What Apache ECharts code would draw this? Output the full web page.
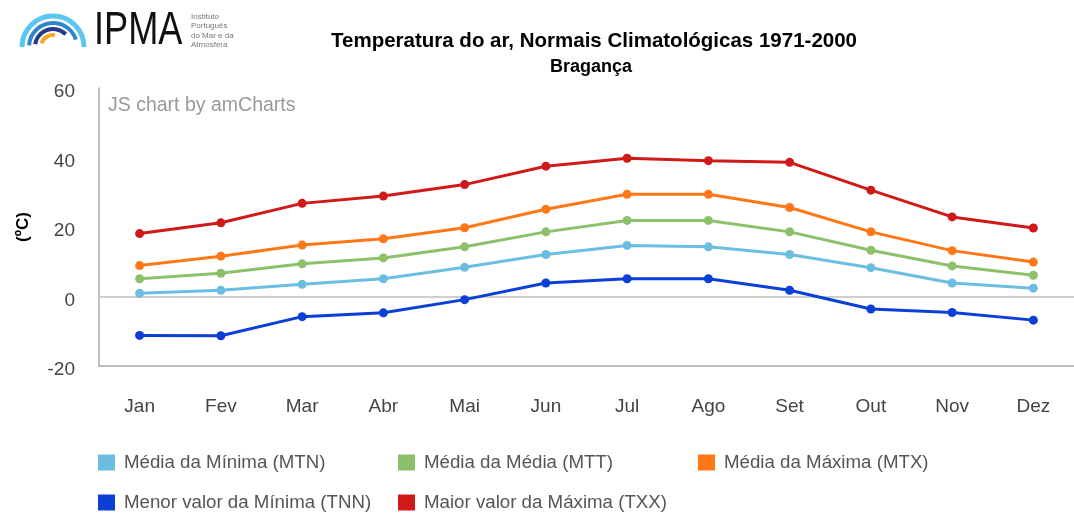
<!DOCTYPE html>
<html>

<head>
  <meta charset="utf-8">
  <title>Temperatura do ar - Bragança</title>
  <script src="https://cdn.jsdelivr.net/npm/echarts@6/dist/echarts.min.js"></script>
  <style>
    html, body { margin: 0; padding: 0; background: #fff; }
    #chart { width: 1074px; height: 513px; }
  </style>
</head>

<body>
  <div id="chart"></div>
  <script type="text/javascript">
    // meses
    var meses = ['Jan', 'Fev', 'Mar', 'Abr', 'Mai', 'Jun', 'Jul', 'Ago', 'Set', 'Out', 'Nov', 'Dez'];

    // valores (ºC)
    var mtn = [0.9, 1.8, 3.5, 5.1, 8.4, 12.1, 14.7, 14.3, 12.1, 8.3, 3.9, 2.4];
    var mtt = [5.1, 6.7, 9.4, 11.1, 14.3, 18.6, 21.9, 21.9, 18.6, 13.3, 8.8, 6.1];
    var mtx = [8.9, 11.6, 14.8, 16.6, 19.8, 25.1, 29.4, 29.4, 25.6, 18.6, 13.2, 9.9];
    var tnn = [-11.2, -11.3, -5.8, -4.7, -0.9, 3.9, 5.1, 5.1, 1.8, -3.6, -4.6, -6.8];
    var txx = [18.1, 21.2, 26.8, 28.9, 32.2, 37.5, 39.8, 39.1, 38.6, 30.6, 22.9, 19.7];

    var nomes = ['Média da Mínima (MTN)', 'Média da Média (MTT)', 'Média da Máxima (MTX)',
      'Menor valor da Mínima (TNN)', 'Maior valor da Máxima (TXX)'];
    var cores = ['#6cbde2', '#8dc06b', '#ff7818', '#0b3fd6', '#d01a1a'];
    var valores = [mtn, mtt, mtx, tnn, txx];

    var myChart = echarts.init(document.getElementById('chart'));

    var series = [];
    for (var i = 0; i < nomes.length; i++) {
      var s = {
        name: nomes[i],
        type: 'line',
        data: valores[i],
        symbol: 'circle',
        symbolSize: 9,
        z: 3,
        lineStyle: { width: 3, color: cores[i] },
        itemStyle: { color: cores[i] }
      };
      if (i == 0) {
        // linha do zero
        s.markLine = {
          silent: true,
          symbol: 'none',
          label: { show: false },
          lineStyle: { color: '#cfcfcf', width: 2, type: 'solid' },
          data: [{ yAxis: 0 }],
          z: 1
        };
      }
      series.push(s);
    }

    // legenda em colunas fixas
    var legPos = [[93, 448], [393, 448], [693, 448], [93, 488], [393, 488]];
    var legends = [];
    for (var j = 0; j < nomes.length; j++) {
      legends.push({
        data: [nomes[j]],
        left: legPos[j][0],
        top: legPos[j][1],
        icon: 'rect',
        itemWidth: 17,
        itemHeight: 16,
        itemGap: 8,
        selectedMode: false,
        textStyle: { fontSize: 18.7, color: '#555', padding: [0, 0, 0, 4], fontFamily: 'Liberation Sans, Arial' }
      });
    }

    var option = {
      animation: false,
      title: [{
        text: 'Temperatura do ar, Normais Climatológicas 1971-2000',
        left: 589,
        top: 26,
        textAlign: 'center',
        textStyle: { fontSize: 20.5, fontWeight: 'bold', color: '#000', fontFamily: 'Liberation Sans, Arial' }
      }, {
        text: 'Bragança',
        left: 586,
        top: 53,
        textAlign: 'center',
        textStyle: { fontSize: 18, fontWeight: 'bold', color: '#000', fontFamily: 'Liberation Sans, Arial' }
      }],
      legend: legends,
      grid: {
        left: 99,
        top: 88,
        width: 982,
        height: 278
      },
      xAxis: {
        type: 'category',
        data: meses,
        boundaryGap: true,
        axisTick: { show: false },
        axisLine: { onZero: false, lineStyle: { color: '#aaa', width: 1.5 } },
        axisLabel: { fontSize: 19, color: '#444', margin: 31, fontFamily: 'Liberation Sans, Arial' },
        splitLine: { show: false }
      },
      yAxis: {
        type: 'value',
        min: -20,
        max: 60,
        interval: 20,
        name: '(ºC)',
        nameLocation: 'middle',
        nameGap: 67,
        nameRotate: 90,
        nameTextStyle: { fontSize: 17, fontWeight: 'bold', color: '#000', fontFamily: 'Liberation Sans, Arial' },
        axisLine: { show: true, lineStyle: { color: '#aaa', width: 1.5 } },
        axisTick: { show: false },
        axisLabel: {
          margin: 24,
          formatter: '{v|{value}}',
          rich: {
            v: { fontSize: 19, color: '#444', padding: [8, 0, 0, 0], fontFamily: 'Liberation Sans, Arial' }
          }
        },
        splitLine: { show: false }
      },
      graphic: [
        // logo IPMA
        { type: 'arc', shape: { cx: 53, cy: 47, r: 31, startAngle: Math.PI, endAngle: 2 * Math.PI }, style: { stroke: '#5cc6f2', lineWidth: 5, fill: null } },
        { type: 'arc', shape: { cx: 53, cy: 47, r: 24, startAngle: Math.PI * 1.02, endAngle: Math.PI * 1.9 }, style: { stroke: '#2f86cc', lineWidth: 4, fill: null } },
        { type: 'arc', shape: { cx: 53, cy: 47, r: 18, startAngle: Math.PI * 1.05, endAngle: Math.PI * 1.75 }, style: { stroke: '#263a8c', lineWidth: 4, fill: null } },
        { type: 'arc', shape: { cx: 53, cy: 47, r: 12, startAngle: Math.PI * 1.1, endAngle: Math.PI * 1.55 }, style: { stroke: '#f6a623', lineWidth: 4, fill: null } },
        { type: 'text', x: 94, y: 31, scaleX: 0.77, style: { text: 'IPMA', fontSize: 47, fontFamily: 'Liberation Sans, Arial', fontWeight: 'normal', fill: '#111', textVerticalAlign: 'middle' } },
        { type: 'text', x: 191, y: 12, style: { text: 'Instituto\nPortuguês\ndo Mar e da\nAtmosfera', fontSize: 8, lineHeight: 9.5, fill: '#777', fontFamily: 'Liberation Sans, Arial' } },
        // marca de agua
        { type: 'text', x: 108, y: 96, style: { text: 'JS chart by amCharts', fontSize: 19.5, fill: '#999', fontFamily: 'Liberation Sans, Arial' } }
      ],
      series: series
    };

    myChart.setOption(option);
  </script>
</body>

</html>
